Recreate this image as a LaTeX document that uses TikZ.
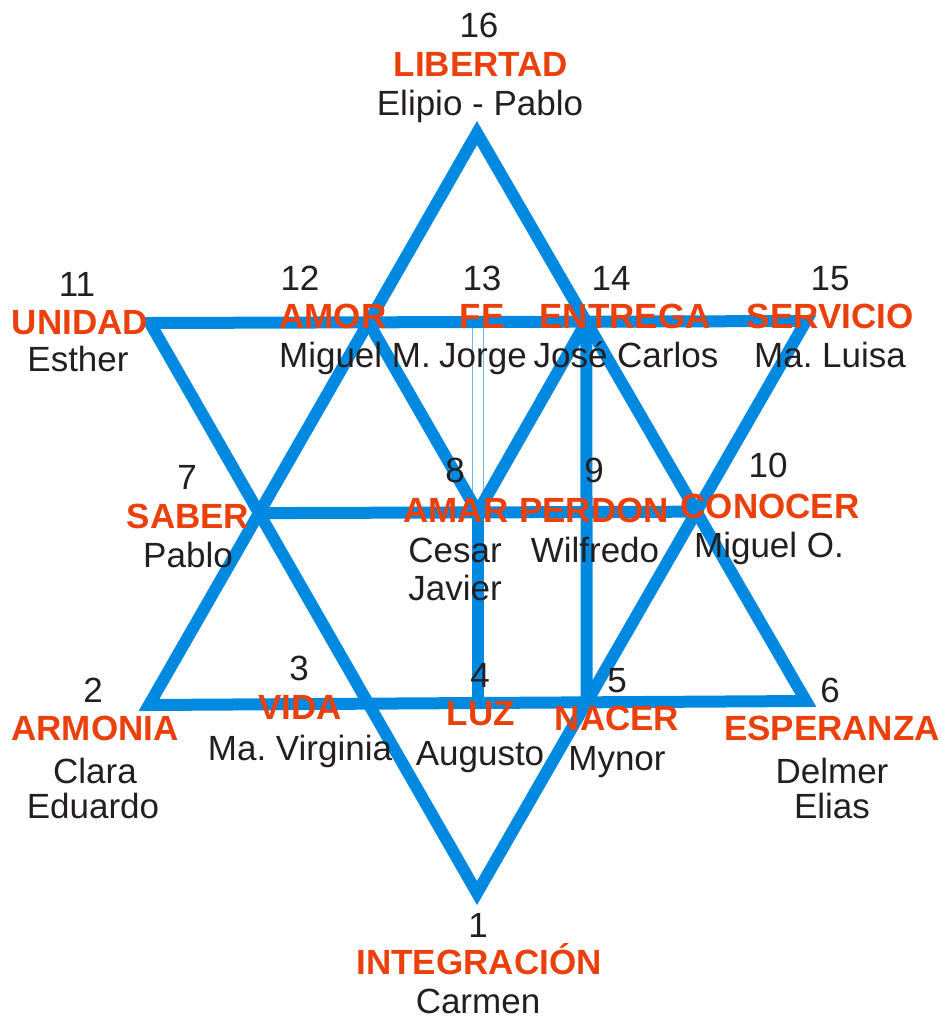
\documentclass[tikz,border=0pt]{standalone}
\usepackage{fontspec}
\setmainfont{Liberation Sans}
\usetikzlibrary{calc}
\definecolor{starblue}{RGB}{0,137,224}
\definecolor{hairblue}{RGB}{110,180,235}
\definecolor{wordred}{RGB}{234,64,12}
\definecolor{ink}{RGB}{35,31,32}
\frenchspacing

\begin{document}
\begin{tikzpicture}[x=1pt,y=-1pt]
  \tikzstyle{beam}=[draw=starblue,line width=12pt,line join=miter];
  \tikzstyle{num}=[text=ink,anchor=base,inner sep=0pt,font=\fontsize{35}{40}\selectfont];
  \tikzstyle{word}=[num,text=wordred,font=\fontsize{35}{40}\selectfont\bfseries];
  \useasboundingbox (0,0) rectangle (942,1018);

  % corners of the two triangles
  \coordinate (p16) at (477,133);
  \coordinate (p2)  at (149,705);
  \coordinate (p6)  at (806,701);
  \coordinate (p11) at (150,323);
  \coordinate (p15) at (806,321);
  \coordinate (p1)  at (477,893);
  % crossings
  \coordinate (p12) at (intersection of p16--p2 and p11--p15);
  \coordinate (p14) at (intersection of p16--p6 and p11--p15);
  \coordinate (p7)  at (intersection of p16--p2 and p11--p1);
  \coordinate (p10) at (intersection of p16--p6 and p15--p1);
  \coordinate (p3)  at (intersection of p2--p6 and p11--p1);
  \coordinate (p5)  at (intersection of p2--p6 and p15--p1);
  \coordinate (p8)  at ($(p7)!0.5!(p10)$);
  \coordinate (p13) at (p8 |- p12);
  \coordinate (p4)  at (p8 |- p3);

  \path[draw=hairblue,line width=1pt,double=white,double distance=10pt] (p13) -- (p8);

  \path[beam] (p16) -- (p2) -- (p6) -- cycle;
  \path[beam] (p1) -- (p11) -- (p15) -- cycle;
  \path[beam] (p7) -- (p10);
  \path[beam] (p12) -- (p8) -- (p14);
  \path[beam] (p8) -- (p4);
  \path[beam] (p14) -- (p5);

  % labels
  \path (479,37.5)  node[num]  (n16) {16};
  \path (481,76.5)  node[word] (w16) {LIBERTAD};
  \path (480,115.5) node[num]  (h16) {Elipio - Pablo};

  \path (77,296.5)  node[num]  (n11) {11};
  \path (80,334.5)  node[word] (w11) {UNIDAD};
  \path (78,371.5)  node[num]  (h11) {Esther};

  \path (300,290.5) node[num]  (n12) {12};
  \path (333,328.5) node[word] (w12) {AMOR};
  \path (355,367.5) node[num]  (h12) {Miguel M.};

  \path (482,290.5) node[num]  (n13) {13};
  \path (482,328.5) node[word] (w13) {FE};
  \path (483,367.5) node[num]  (h13) {Jorge};

  \path (611,290.5) node[num]  (n14) {14};
  \path (625,328.5) node[word] (w14) {ENTREGA};
  \path (626,367.5) node[num]  (h14) {José Carlos};

  \path (830,290.5) node[num]  (n15) {15};
  \path (830,328.5) node[word] (w15) {SERVICIO};
  \path (830,367.5) node[num]  (h15) {Ma. Luisa};

  \path (187,489.5) node[num]  (n7) {7};
  \path (188,528.5) node[word] (w7) {SABER};
  \path (188,567.5) node[num]  (h7) {Pablo};

  \path (455,482.5) node[num]  (n8) {8};
  \path (456,522.5) node[word] (w8) {AMAR};
  \path (455,562.5) node[num]  (h8) {Cesar};
  \path (455,600.5) node[num]  (k8) {Javier};

  \path (594,482.5) node[num]  (n9) {9};
  \path (594,522.5) node[word] (w9) {PERDON};
  \path (595,562.5) node[num]  (h9) {Wilfredo};

  \path (768,477.5) node[num]  (n10) {10};
  \path (770,518.5) node[word] (w10) {CONOCER};
  \path (769,557.5) node[num]  (h10) {Miguel O.};

  \path (93,702.5)  node[num]  (n2) {2};
  \path (95,740.5)  node[word] (w2) {ARMONIA};
  \path (95,783.5)  node[num]  (h2) {Clara};
  \path (93,818.5)  node[num]  (k2) {Eduardo};

  \path (299,680.5) node[num]  (n3) {3};
  \path (300,719.5) node[word] (w3) {VIDA};
  \path (300,760.5) node[num]  (h3) {Ma. Virginia};

  \path (480,687.5) node[num]  (n4) {4};
  \path (481,725.5) node[word] (w4) {LUZ};
  \path (480,765.5) node[num]  (h4) {Augusto};

  \path (617,692.5) node[num]  (n5) {5};
  \path (617,730.5) node[word] (w5) {NACER};
  \path (617,770.5) node[num]  (h5) {Mynor};

  \path (830,702.5) node[num]  (n6) {6};
  \path (832,740.5) node[word] (w6) {ESPERANZA};
  \path (832,783.5) node[num]  (h6) {Delmer};
  \path (832,818.5) node[num]  (k6) {Elias};

  \path (478,937.5)  node[num]  (n1) {1};
  \path (479,974.5)  node[word] (w1) {INTEGRACIÓN};
  \path (478,1013)   node[num]  (h1) {Carmen};
\end{tikzpicture}
\end{document}
